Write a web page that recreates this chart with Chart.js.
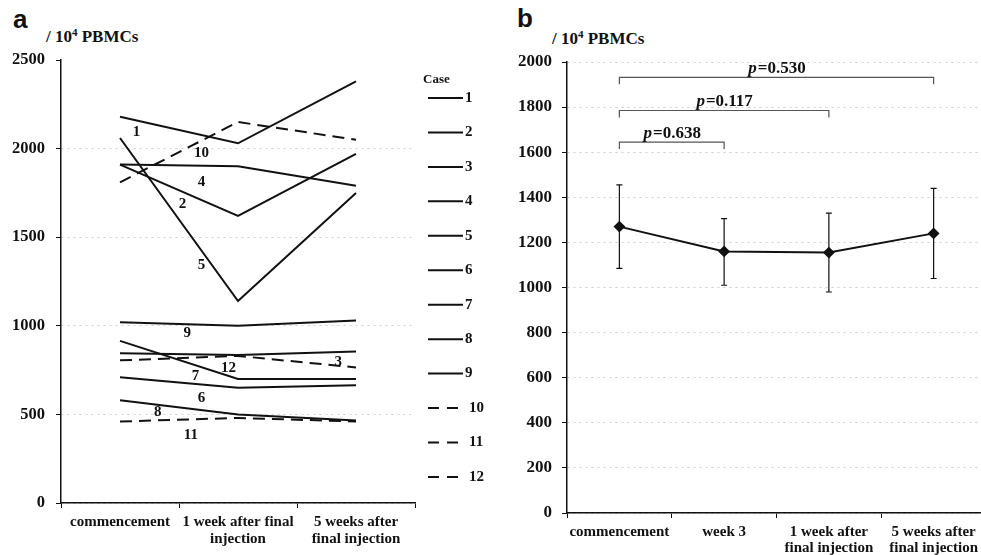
<!DOCTYPE html>
<html>
<head>
<meta charset="utf-8">
<script src="https://cdn.jsdelivr.net/npm/chart.js@4.4.0/dist/chart.umd.min.js"></script>
<style>
  html, body { margin: 0; padding: 0; background: #fff; width: 981px; height: 555px; overflow: hidden; }
  .wrap { position: absolute; top: 0; height: 555px; overflow: hidden; }
  .tag { position: absolute; font-family: 'Liberation Sans', Arial, sans-serif; font-weight: bold; font-size: 26px; line-height: 26px; color: #111; }
  .unit { position: absolute; font-family: 'Liberation Serif', 'Times New Roman', serif; font-weight: bold; font-size: 17px; line-height: 17px; color: #111; white-space: nowrap; }
  .unit sup { font-size: 11px; vertical-align: 0; position: relative; top: -6px; }
</style>
</head>
<body>
<div class="tag" style="left:13px;top:6px;">a</div>
<div class="unit" style="left:46px;top:28px;">/ 10<sup>4</sup> PBMCs</div>
<div class="tag" style="left:517px;top:5px;">b</div>
<div class="unit" style="left:552px;top:30px;">/ 10<sup>4</sup> PBMCs</div>

<div class="wrap" style="left:0;width:500px;"><canvas id="chartA" width="500" height="555"></canvas></div>
<div class="wrap" style="left:500px;width:481px;"><canvas id="chartB" width="500" height="555"></canvas></div>

<script>
// panel a: individual cases
const timeA = [['commencement'], ['1 week after final', 'injection'], ['5 weeks after', 'final injection']];
const case1 = [2180, 2030, 2380];
const case2 = [1910, 1620, 1970];
const case3 = [845, 835, 855];
const case4 = [1910, 1900, 1790];
const case5 = [2060, 1140, 1750];
const case6 = [710, 650, 665];
const case7 = [915, 700, 700];
const case8 = [580, 500, 465];
const case9 = [1020, 1000, 1030];
const case10 = [1810, 2150, 2050];
const case11 = [460, 480, 460];
const case12 = [805, 830, 765];
const caseNames = ['1', '2', '3', '4', '5', '6', '7', '8', '9', '10', '11', '12'];
const caseSeries = [case1, case2, case3, case4, case5, case6, case7, case8, case9, case10, case11, case12];
// where each case number is written (category index, value)
const tagAtX = [0.14, 0.53, 1.85, 0.69, 0.69, 0.69, 0.64, 0.32, 0.57, 0.69, 0.60, 0.92];
const tagAtY = [2093, 1687, 796, 1811, 1343, 592, 717, 513, 959, 1975, 384, 762];

// panel b: mean with error bars
const timeB = ['commencement', 'week 3', ['1 week after', 'final injection'], ['5 weeks after', 'final injection']];
const meanB = [1270, 1160, 1155, 1240];
const upperB = [1455, 1305, 1330, 1440];
const lowerB = [1085, 1010, 980, 1040];
const pValues = ['0.638', '0.117', '0.530'];
const pTo = [1, 2, 3];
const pLevel = [1645, 1785, 1932];

const serif = "'Liberation Serif', 'Times New Roman', serif";
const ink = '#111';

function dashed(i) { return i >= 9; }
function plain(v) { return String(v); }

const caseTags = {
  id: 'caseTags',
  afterDatasetsDraw(chart) {
    const ctx = chart.ctx, xs = chart.scales.x, ys = chart.scales.y;
    const x0 = xs.getPixelForValue(0), step = xs.getPixelForValue(1) - x0;
    ctx.save();
    ctx.fillStyle = ink;
    ctx.font = 'bold 15px ' + serif;
    ctx.textAlign = 'center';
    ctx.textBaseline = 'middle';
    caseNames.forEach((n, i) => {
      ctx.fillText(n, x0 + tagAtX[i] * step, ys.getPixelForValue(tagAtY[i]));
    });
    ctx.restore();
  }
};

const caseLegend = {
  id: 'caseLegend',
  afterDraw(chart) {
    const ctx = chart.ctx;
    const left = chart.chartArea.right + 13;
    ctx.save();
    ctx.fillStyle = ink;
    ctx.strokeStyle = ink;
    ctx.textBaseline = 'middle';
    ctx.font = 'bold 13px ' + serif;
    ctx.fillText('Case', left - 5, 80);
    ctx.font = 'bold 15px ' + serif;
    caseNames.forEach((n, i) => {
      const y = 98 + i * 34.45;
      ctx.lineWidth = 2;
      ctx.setLineDash(dashed(i) ? [11, 8] : []);
      ctx.beginPath();
      ctx.moveTo(left, y);
      ctx.lineTo(left + 35, y);
      ctx.stroke();
      ctx.fillText(n, left + (dashed(i) ? 41 : 37), y);
    });
    ctx.restore();
  }
};

const errorBars = {
  id: 'errorBars',
  beforeDatasetsDraw(chart) {
    const ctx = chart.ctx, xs = chart.scales.x, ys = chart.scales.y;
    ctx.save();
    ctx.strokeStyle = ink;
    ctx.lineWidth = 1.2;
    meanB.forEach((m, i) => {
      const x = xs.getPixelForValue(i);
      const yt = ys.getPixelForValue(upperB[i]), yb = ys.getPixelForValue(lowerB[i]);
      ctx.beginPath();
      ctx.moveTo(x, yt); ctx.lineTo(x, yb);
      ctx.moveTo(x - 3, yt); ctx.lineTo(x + 3, yt);
      ctx.moveTo(x - 3, yb); ctx.lineTo(x + 3, yb);
      ctx.stroke();
    });
    ctx.restore();
  }
};

const brackets = {
  id: 'brackets',
  afterDatasetsDraw(chart) {
    const ctx = chart.ctx, xs = chart.scales.x, ys = chart.scales.y;
    ctx.save();
    pValues.forEach((p, k) => {
      const x1 = xs.getPixelForValue(0), x2 = xs.getPixelForValue(pTo[k]);
      const y = ys.getPixelForValue(pLevel[k]);
      ctx.strokeStyle = '#555';
      ctx.lineWidth = 1.2;
      ctx.beginPath();
      ctx.moveTo(x1, y + 7); ctx.lineTo(x1, y); ctx.lineTo(x2, y); ctx.lineTo(x2, y + 7);
      ctx.stroke();
      // "p" in italics, the rest upright
      ctx.fillStyle = ink;
      ctx.textBaseline = 'alphabetic';
      ctx.textAlign = 'left';
      const fItal = 'italic bold 17px ' + serif, fBold = 'bold 17px ' + serif;
      ctx.font = fItal;
      const w1 = ctx.measureText('p').width;
      ctx.font = fBold;
      const rest = '=' + p;
      const w2 = ctx.measureText(rest).width;
      const sx = (x1 + x2) / 2 - (w1 + w2) / 2;
      ctx.font = fItal;
      ctx.fillText('p', sx, y - 4);
      ctx.font = fBold;
      ctx.fillText(rest, sx + w1 + 1, y - 4);
    });
    ctx.restore();
  }
};

new Chart(document.getElementById('chartA'), {
  type: 'line',
  data: {
    labels: timeA,
    datasets: caseSeries.map((v, i) => ({
      label: caseNames[i],
      data: v,
      borderColor: ink,
      borderWidth: 2,
      borderDash: dashed(i) ? [12, 7] : [],
      pointRadius: 0,
      tension: 0,
      fill: false
    }))
  },
  options: {
    responsive: false,
    animation: false,
    layout: { padding: { top: 60, right: 85, left: 0, bottom: 0 } },
    plugins: { legend: { display: false }, tooltip: { enabled: false } },
    scales: {
      x: {
        offset: true,
        grid: { offset: true, drawOnChartArea: false, tickLength: 5, color: ink, tickColor: ink },
        border: { color: ink, width: 1.5 },
        ticks: { color: ink, font: { family: serif, weight: 'bold', size: 15, lineHeight: 1.1 }, padding: 6, maxRotation: 0, autoSkip: false },
        afterFit: s => { s.height = 52; }
      },
      y: {
        min: 0, max: 2500,
        ticks: { stepSize: 500, color: ink, font: { family: serif, weight: 'bold', size: 16.5 }, padding: 11, callback: plain },
        grid: { color: c => (c.tick && c.tick.value === 2500) ? 'rgba(0,0,0,0)' : '#cfcfcf', tickColor: ink, tickLength: 5, lineWidth: 1 },
        border: { color: ink, width: 1.5, dash: [2, 4] },
        afterFit: s => { s.width = 61; }
      }
    }
  },
  plugins: [caseTags, caseLegend]
});

new Chart(document.getElementById('chartB'), {
  type: 'line',
  data: {
    labels: timeB,
    datasets: [{
      label: 'mean',
      data: meanB,
      borderColor: ink,
      borderWidth: 2,
      pointStyle: 'rectRot',
      pointRadius: 4.5,
      pointBackgroundColor: ink,
      pointBorderColor: ink,
      tension: 0,
      fill: false
    }]
  },
  options: {
    responsive: false,
    animation: false,
    layout: { padding: { top: 62, right: 14, left: 0, bottom: 0 } },
    plugins: { legend: { display: false }, tooltip: { enabled: false } },
    scales: {
      x: {
        offset: true,
        grid: { offset: true, drawOnChartArea: false, tickLength: 5, color: ink, tickColor: ink },
        border: { color: ink, width: 1.5 },
        ticks: { color: ink, font: { family: serif, weight: 'bold', size: 15, lineHeight: 1.07 }, padding: 6, maxRotation: 0, autoSkip: false },
        afterFit: s => { s.height = 42; }
      },
      y: {
        min: 0, max: 2000,
        ticks: { stepSize: 200, color: ink, font: { family: serif, weight: 'bold', size: 17 }, padding: 10, callback: plain },
        grid: { color: '#cfcfcf', tickColor: ink, tickLength: 5, lineWidth: 1 },
        border: { color: ink, width: 1.5, dash: [2, 4] },
        afterFit: s => { s.width = 67; }
      }
    }
  },
  plugins: [errorBars, brackets]
});
</script>
</body>
</html>
